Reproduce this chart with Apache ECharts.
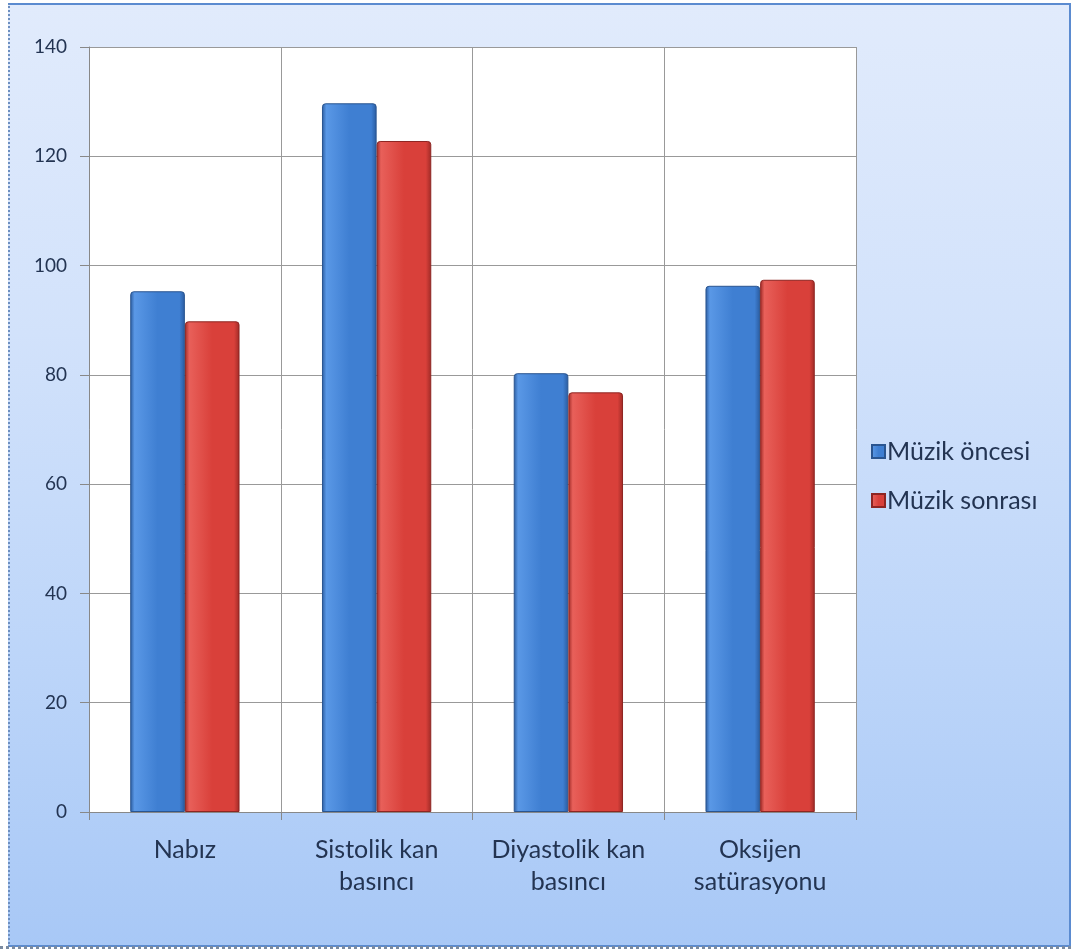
<!DOCTYPE html>
<html>
<head>
<meta charset="utf-8">
<script src="https://cdn.jsdelivr.net/npm/echarts@6/dist/echarts.min.js"></script>
<style>
html,body{margin:0;padding:0;background:#ffffff;width:1071px;height:952px;overflow:hidden;}
#frame{position:absolute;left:8px;top:3px;width:1059px;height:940px;
 background:linear-gradient(to bottom,#e1ebfc 0%,#d2e2fb 35%,#bcd5f9 70%,#a8c8f6 100%);
 border-top:2px solid #5b8bd0;border-right:2px solid #5b8bd0;border-left:2px dotted #6d8fc0;border-bottom:2px solid #5b8bd0;}
#strip{position:absolute;left:0;top:946px;width:1071px;height:0;border-top:3px dotted #7a8aa0;}
#chart{position:absolute;left:0;top:0;width:1071px;height:952px;}
</style>
</head>
<body>
<div id="frame"></div>
<div id="strip"></div>
<div id="chart"></div>
<script>
var categories = ['Nabız', 'Sistolik kan\nbasıncı', 'Diyastolik kan\nbasıncı', 'Oksijen\nsatürasyonu'];
var seriesNames = ['Müzik öncesi', 'Müzik sonrası'];
var onceValues = [95.3, 129.7, 80.3, 96.3];
var sonraValues = [89.8, 122.8, 76.8, 97.4];
var yTicks = [0, 20, 40, 60, 80, 100, 120, 140];

function grad(edge, mid, light) {
  return new echarts.graphic.LinearGradient(0, 0, 1, 0, [
    {offset: 0, color: edge},
    {offset: 0.08, color: light},
    {offset: 0.5, color: mid},
    {offset: 0.9, color: mid},
    {offset: 1, color: edge}
  ]);
}
var blueFill = grad('#2a5b9e', '#3f7fd2', '#5a98e6');
var redFill = grad('#9e2a26', '#d9403a', '#e8605a');

var chart = echarts.init(document.getElementById('chart'), null, {renderer: 'canvas'});
var font = 'Lato, "Open Sans", sans-serif';
chart.setOption({
  backgroundColor: 'transparent',
  animation: false,
  grid: {left: 89, right: 215, top: 47, bottom: 140, show: true, backgroundColor: '#ffffff', borderWidth: 0},
  legend: {
    orient: 'vertical', left: 866, top: 434, itemGap: 24,
    icon: 'rect', itemWidth: 13, itemHeight: 13,
    textStyle: {fontFamily: font, fontSize: 25, lineHeight: 24, color: '#233452', padding: [0, 0, 0, -3]},
    data: seriesNames
  },
  xAxis: {
    type: 'category', data: categories,
    axisLine: {show: true, lineStyle: {color: '#888888', width: 1}},
    axisTick: {show: true, length: 8, interval: 0, lineStyle: {color: '#888888'}},
    splitLine: {show: true, interval: 0, lineStyle: {color: '#999999', width: 1}},
    axisLabel: {fontFamily: font, fontSize: 25, color: '#233452', margin: 22, lineHeight: 32, interval: 0, hideOverlap: false}
  },
  yAxis: {
    type: 'value', min: yTicks[0], max: yTicks[yTicks.length - 1], interval: 20,
    axisLine: {show: true, lineStyle: {color: '#888888', width: 1}},
    axisTick: {show: true, length: 9, lineStyle: {color: '#888888'}},
    splitLine: {show: true, lineStyle: {color: '#999999', width: 1}},
    axisLabel: {fontFamily: font, fontSize: 19, color: '#233452', margin: 22}
  },
  series: [
    {name: seriesNames[0], type: 'bar', data: onceValues, barGap: '0%', barCategoryGap: '43%',
     itemStyle: {color: blueFill, borderColor: '#2a5590', borderWidth: 1, borderRadius: [3, 3, 0, 0]}},
    {name: seriesNames[1], type: 'bar', data: sonraValues,
     itemStyle: {color: redFill, borderColor: '#8e2522', borderWidth: 1, borderRadius: [3, 3, 0, 0]}}
  ]
});
</script>
</body>
</html>
